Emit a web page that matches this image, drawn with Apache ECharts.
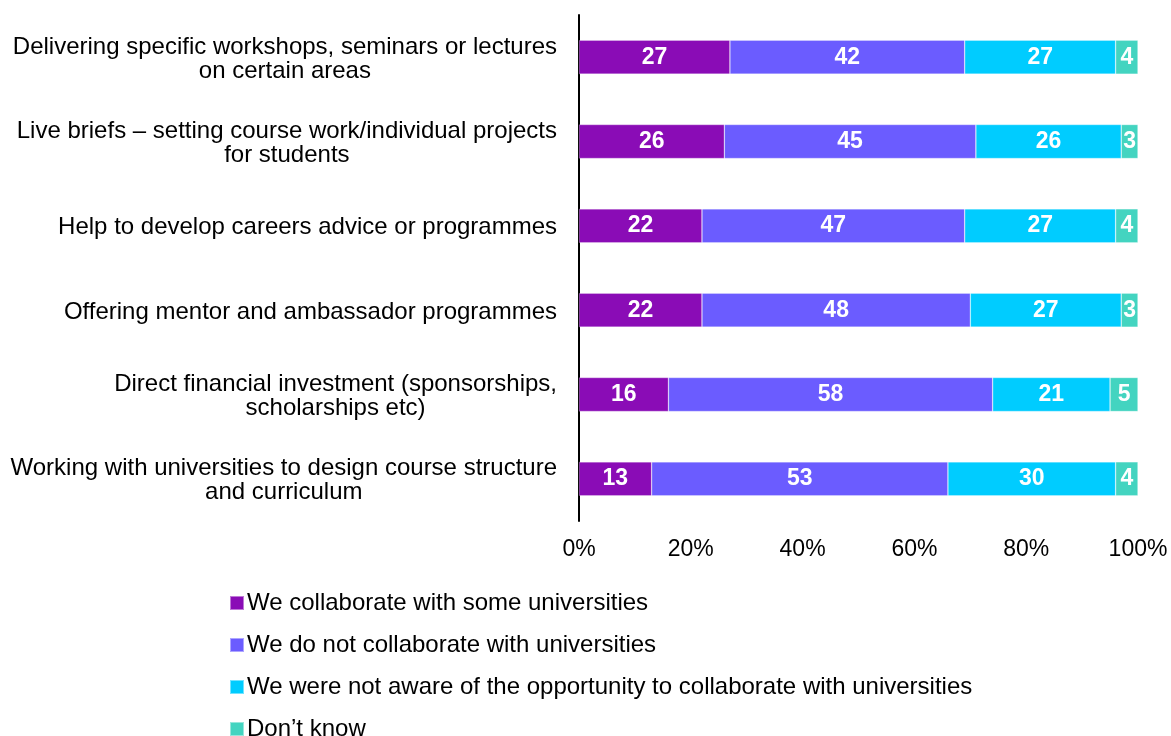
<!DOCTYPE html>
<html>
<head>
<meta charset="utf-8">
<script src="https://cdn.jsdelivr.net/npm/echarts@6/dist/echarts.min.js"></script>
<style>
  html, body { margin: 0; padding: 0; background: #ffffff; overflow: hidden; }
  #chart { width: 1171px; height: 736px; }
</style>
</head>
<body>
<div id="chart"></div>
<script>
// Engagement activities, top to bottom
const categories = [
  'Delivering specific workshops, seminars or lectures\non certain areas',
  'Live briefs \u2013 setting course work/individual projects\nfor students',
  'Help to develop careers advice or programmes',
  'Offering mentor and ambassador programmes',
  'Direct financial investment (sponsorships,\nscholarships etc)',
  'Working with universities to design course structure\nand curriculum'
];

const seriesNames = [
  'We collaborate with some universities',
  'We do not collaborate with universities',
  'We were not aware of the opportunity to collaborate with universities',
  'Don\u2019t know'
];

// Percent of respondents per activity
const collaborateSome = [27, 26, 22, 22, 16, 13];
const notCollaborate = [42, 45, 47, 48, 58, 53];
const notAware = [27, 26, 27, 27, 21, 30];
const dontKnow = [4, 3, 4, 3, 5, 4];

const xTicks = [0, 20, 40, 60, 80, 100];

const colors = ['#8A0CB6', '#6B5CFF', '#00CCFF', '#43D4C0'];
const FONT = '"Liberation Sans", Arial, sans-serif';

const chart = echarts.init(document.getElementById('chart'), null, { renderer: 'canvas' });

const seriesData = [collaborateSome, notCollaborate, notAware, dontKnow];

chart.setOption({
  animation: false,
  textStyle: { fontFamily: FONT },
  grid: { left: 579, right: 33, top: 15, height: 506, containLabel: false },
  xAxis: {
    type: 'value',
    min: xTicks[0],
    max: xTicks[xTicks.length - 1],
    interval: 20,
    axisLine: { show: false },
    axisTick: { show: false },
    splitLine: { show: false },
    axisLabel: {
      formatter: '{value}%',
      fontSize: 23,
      color: '#000',
      fontFamily: FONT,
      margin: 17
    }
  },
  yAxis: {
    type: 'category',
    inverse: true,
    data: categories,
    axisLine: { show: true, lineStyle: { color: '#000', width: 2 } },
    axisTick: { show: false },
    splitLine: { show: false },
    axisLabel: {
      margin: 22,
      align: 'right',
      color: '#000',
      fontFamily: FONT,
      fontSize: 24,
      lineHeight: 24,
      padding: [4, 0, 0, 0],
      formatter: function (v) {
        return v.split('\n').map(function (l) { return '{c|' + l + '}'; }).join('\n');
      },
      rich: {
        c: { align: 'center', fontSize: 24, lineHeight: 24, color: '#000', fontFamily: FONT }
      }
    }
  },
  legend: {
    orient: 'vertical',
    left: 229,
    top: 591,
    height: 220,
    padding: 0,
    itemWidth: 14,
    itemHeight: 14,
    itemGap: 18,
    icon: 'rect',
    data: seriesNames,
    textStyle: { fontSize: 24, color: '#000', fontFamily: FONT, lineHeight: 24, padding: [0, 0, 0, -2] }
  },
  series: seriesNames.map(function (name, i) {
    return {
      name: name,
      type: 'bar',
      stack: 'total',
      barWidth: 34,
      data: seriesData[i],
      itemStyle: { color: colors[i], borderColor: 'rgba(255,255,255,0.45)', borderWidth: 0.6 },
      label: {
        show: true,
        position: 'inside',
        color: '#fff',
        fontWeight: 'bold',
        fontSize: 23,
        fontFamily: FONT
      }
    };
  })
});
</script>
</body>
</html>
